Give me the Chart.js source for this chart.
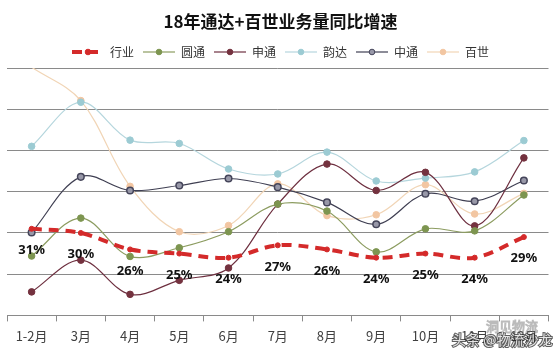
<!DOCTYPE html>
<html>
<head>
<meta charset="utf-8">
<script src="https://cdn.jsdelivr.net/npm/chart.js@4/dist/chart.umd.min.js"></script>
<style>
html,body{margin:0;padding:0;background:#fff;}
#wrap{width:554px;height:354px;}
</style>
</head>
<body>
<div id="wrap"><canvas id="c" width="554" height="354"></canvas></div>
<script>
const categories = ['1-2月','3月','4月','5月','6月','7月','8月','9月','10月','11月','12月'];
const seriesNames = ['行业','圆通','申通','韵达','中通','百世'];
const industry = [31,30,26,25,24,27,26,24,25,24,29];
const yuantong = [24.4,33.6,24.3,26.4,30.3,37.0,35.3,25.4,31.0,30.5,39.2];
const shentong = [15.7,23.4,15.1,18.5,21.5,37.0,46.7,40.3,44.7,31.7,48.2];
const yunda = [51.0,61.7,52.5,51.7,45.5,44.3,49.6,42.6,43.3,44.8,52.4];
const zhongtong = [30.1,43.6,40.3,41.5,43.2,41.1,37.4,32.1,39.5,37.7,42.7];
const baishi = [70.2,62.1,41.3,30.3,31.8,41.9,34.2,34.4,41.7,34.6,39.6];
const yTicks = [10,20,30,40,50,60,70];

const lineColors = ['#d42a2a','#8c9c60','#6e3040','#b5d6dd','#3f3f52','#f1d5b6'];
const pointColors = ['#d42a2a','#7d9550','#74323f','#9ccbd3','#9898a8','#f2c6a2'];
const pointBorders = ['#d42a2a','#7d9550','#74323f','#9ccbd3','#45455a','#f2c6a2'];

function makeIcon(i){
  const c = document.createElement('canvas');
  c.width = 32; c.height = 10;
  const g = c.getContext('2d');
  g.strokeStyle = lineColors[i];
  if(i===0){
    g.lineWidth = 4;
    g.setLineDash([10,6]);
    g.beginPath(); g.moveTo(0,5); g.lineTo(32,5); g.stroke();
  } else {
    g.lineWidth = 1.2;
    g.beginPath(); g.moveTo(0,5); g.lineTo(32,5); g.stroke();
  }
  g.setLineDash([]);
  g.fillStyle = pointColors[i];
  g.strokeStyle = pointBorders[i];
  g.lineWidth = 1;
  g.beginPath(); g.arc(16,5,2.8,0,Math.PI*2); g.fill(); g.stroke();
  return c;
}
const icons = seriesNames.map((n,i)=>makeIcon(i));

const allData = [industry,yuantong,shentong,yunda,zhongtong,baishi];
const datasets = allData.map((d,i)=>({
  label: seriesNames[i],
  data: d,
  borderColor: lineColors[i],
  backgroundColor: pointColors[i],
  pointBackgroundColor: pointColors[i],
  pointBorderColor: pointBorders[i],
  pointBorderWidth: i===4 ? 1.5 : 1,
  pointRadius: i===0 ? 2.5 : (i===5 ? d.map((v,j)=> j===0 ? 0 : 3.3) : 3.3),
  borderWidth: i===0 ? 4 : 1.2,
  borderDash: i===0 ? [10,7] : [],
  tension: 0.35,
  fill: false
}));

const labelPlugin = {
  id: 'industryLabels',
  afterDatasetsDraw(chart){
    const ctx = chart.ctx;
    const meta = chart.getDatasetMeta(0);
    ctx.save();
    ctx.font = 'bold 13px "Noto Sans", "DejaVu Sans", sans-serif';
    ctx.fillStyle = '#111';
    ctx.textAlign = 'center';
    ctx.textBaseline = 'middle';
    meta.data.forEach((pt,i)=>{
      ctx.fillText(industry[i] + '%', pt.x, pt.y + 21.5);
    });
    ctx.restore();
  },
  afterDraw(chart){
    const ctx = chart.ctx;
    ctx.save();
    ctx.font = '13px "Noto Sans CJK SC", sans-serif';
    ctx.textAlign = 'left';
    ctx.textBaseline = 'middle';
    ctx.strokeStyle = 'rgba(120,120,120,0.5)';
    ctx.lineWidth = 1;
    ctx.strokeText('洞见物流', 486, 326);
    ctx.font = '14px "Noto Sans CJK SC", sans-serif';
    ctx.fillStyle = 'rgba(255,255,255,0.85)';
    ctx.strokeStyle = 'rgba(40,40,40,0.75)';
    ctx.lineWidth = 2;
    ctx.strokeText('头条 @物流沙龙', 452, 340);
    ctx.fillText('头条 @物流沙龙', 452, 340);
    ctx.restore();
  }
};

new Chart(document.getElementById('c'), {
  type: 'line',
  data: { labels: categories, datasets },
  plugins: [labelPlugin],
  options: {
    responsive: false,
    animation: false,
    layout: { padding: { left: 7, right: 0, top: 0, bottom: 3 } },
    plugins: {
      title: {
        display: true,
        text: '18年通达+百世业务量同比增速',
        color: '#111',
        font: { family: '"Noto Sans CJK SC", sans-serif', size: 17, weight: 'bold' },
        padding: { top: 11, bottom: 5.6 }
      },
      legend: {
        position: 'top',
        labels: {
          usePointStyle: true,
          pointStyleWidth: 32,
          boxHeight: 10,
          padding: 9,
          color: '#333',
          font: { family: '"Noto Sans CJK SC", sans-serif', size: 12 },
          generateLabels(chart){
            const items = Chart.defaults.plugins.legend.labels.generateLabels(chart);
            items.forEach((it,i)=>{ it.pointStyle = icons[i]; });
            return items;
          }
        }
      },
      tooltip: { enabled: false }
    },
    scales: {
      x: {
        offset: true,
        grid: { offset: true, drawOnChartArea: false, drawTicks: true, tickLength: 6, color: '#8a8a8a' },
        border: { display: true, color: '#8a8a8a' },
        ticks: { color: '#404040', padding: 7, font: { family: '"Noto Sans CJK SC", sans-serif', size: 13 }, maxRotation: 0, autoSkip: false }
      },
      y: {
        min: yTicks[0],
        max: yTicks[yTicks.length-1],
        afterBuildTicks(scale){ scale.ticks = yTicks.map(v=>({value:v})); },
        afterFit(scale){ scale.width = 0; },
        ticks: { display: false },
        grid: { color: '#8a8a8a', drawTicks: false },
        border: { display: false }
      }
    }
  }
});
</script>
</body>
</html>
